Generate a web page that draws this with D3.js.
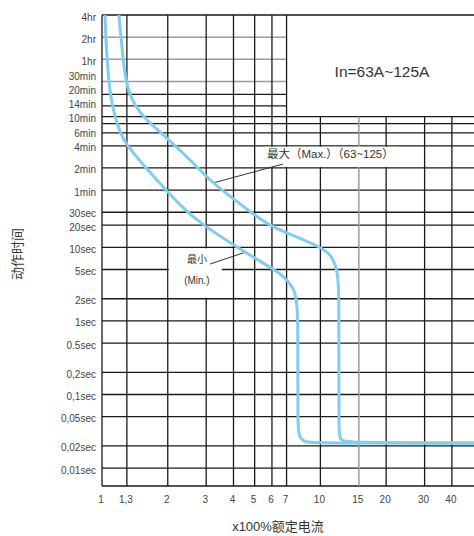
<!DOCTYPE html>
<html><head><meta charset="utf-8">
<script src="https://cdn.jsdelivr.net/npm/d3@7"></script>
<style>body{margin:0;background:#fff}svg{display:block}</style>
</head><body>
<svg id="c" width="474" height="536"></svg>
<script>
// ---- data ----
const timeValues = [14400,7200,3600,1800,1200,840,600,480,360,240,120,60,30,20,10,5,2,1,0.5,0.2,0.1,0.05,0.02,0.01];
const timeLabels = ["4hr","2hr","1hr","30min","20min","14min","10min","","6min","4min","2min","1min","30sec","20sec","10sec","5sec","2sec","1sec","0.5sec","0,2sec","0,1sec","0,05sec","0,02sec","0,01sec"];
const lightTimes = [7200,3600,1800];
const upperTimes = [7200,3600,1800,1200,840];       // lines that stop at 7x (box area)
const currentValues = [1,1.3,2,3,4,5,6,7,10,15,20,30,40];
const currentLabels = ["1","1,3","2","3","4","5","6","7","10","15","20","30","40"];
const lightCurrents = [15];
const lowerCurrents = [10,15,20,30,40];             // lines that start at 10min
const minCurve = [[1.032,14400],[1.04,8000],[1.054,3633],[1.088,1176],[1.147,591],[1.209,370],[1.274,262],[1.573,124],[1.963,60.2],[2.323,35.3],[2.809,21.4],[4.148,10.1],[5.176,6.73],[5.874,5.4],[6.88,3.95],[7.48,2.89],[7.885,1.92],[7.885,0.3],[7.885,0.0384],[7.95,0.026],[8.6,0.0222],[9.64,0.0219],[50.5,0.0219]];
const maxCurve = [[1.196,14400],[1.205,10000],[1.222,7465],[1.248,3633],[1.288,1825],[1.343,1176],[1.416,861],[1.540,591],[1.984,306],[2.348,192],[2.751,120],[3.221,74.9],[4.061,44],[4.859,29.3],[5.998,18.9],[7.805,13.8],[9.741,10.4],[11.05,8.38],[11.9,5.4],[12.1,3.0],[12.15,1.92],[12.15,0.2],[12.15,0.0329],[12.25,0.024],[13.1,0.0222],[50.5,0.0219]];
const boxTitle = "In=63A~125A";
const maxLabel = "最大（Max.）（63~125）";
const minLabel = ["最小","(Min.)"];
const xTitle = "x100%额定电流";
const yTitle = "动作时间";

// ---- scales ----
const xDomainMax = 50.5, yDomainMin = 0.0057;
const x = d3.scaleLog().domain([1, xDomainMax]).range([102, 474]);
const y = d3.scaleLog().domain([yDomainMin, 14400]).range([486, 15]);

const svg = d3.select("#c");
const BLACK = "#1a1a1a", GRAY = "#9c9c9c";
const latin = "'Liberation Sans', Arial, sans-serif";
const cjk = "'Liberation Sans', 'Noto Sans CJK SC', sans-serif";

const gGrid = svg.append("g");
const gBox = svg.append("g");
const gText = svg.append("g");
const gCurve = svg.append("g");

// ---- grid ----
timeValues.forEach(t => {
  gGrid.append("line")
    .attr("x1", x(1)).attr("x2", upperTimes.includes(t) ? x(7) : x(xDomainMax))
    .attr("y1", y(t)).attr("y2", y(t))
    .attr("stroke", lightTimes.includes(t) ? GRAY : BLACK)
    .attr("stroke-width", lightTimes.includes(t) ? 1.5 : 1.3);
});
gGrid.append("line").attr("x1", x(1)).attr("x2", x(xDomainMax))
  .attr("y1", y(yDomainMin)).attr("y2", y(yDomainMin)).attr("stroke", BLACK).attr("stroke-width", 1.3);
currentValues.forEach(c => {
  gGrid.append("line")
    .attr("x1", x(c)).attr("x2", x(c))
    .attr("y1", lowerCurrents.includes(c) ? y(600) : y(14400))
    .attr("y2", y(yDomainMin))
    .attr("stroke", lightCurrents.includes(c) ? GRAY : BLACK)
    .attr("stroke-width", lightCurrents.includes(c) ? 1.5 : 1.3);
});

// ---- y tick labels (stacked to avoid overlap) ----
const yItems = timeValues.map((t, i) => ({t, label: timeLabels[i], pos: y(t) + 2})).filter(d => d.label);
for (let i = yItems.length - 2; i >= 0; i--) yItems[i].pos = Math.min(yItems[i].pos, yItems[i + 1].pos - 14);
gText.append("g").selectAll("text").data(yItems).join("text")
  .attr("x", 96).attr("y", d => d.pos).attr("dy", "0.35em")
  .attr("text-anchor", "end").attr("font-family", latin).attr("font-size", 10).attr("fill", "#444")
  .text(d => d.label);

// ---- x tick labels ----
gText.append("g").selectAll("text").data(currentValues).join("text")
  .attr("x", d => x(d) - 1).attr("y", 503)
  .attr("text-anchor", "middle").attr("font-family", latin).attr("font-size", 10).attr("fill", "#444")
  .text((d, i) => currentLabels[i]);

// ---- axis titles ----
gText.append("text").attr("x", 278).attr("y", 531).attr("text-anchor", "middle")
  .attr("font-family", cjk).attr("font-size", 13).attr("fill", "#333").text(xTitle);
gText.append("text").attr("transform", "translate(22,254) rotate(-90)").attr("text-anchor", "middle")
  .attr("font-family", cjk).attr("font-size", 13).attr("fill", "#333").text(yTitle);

// ---- box title ----
gText.append("text").attr("x", 382).attr("y", 72).attr("dy", "0.35em").attr("text-anchor", "middle")
  .attr("font-family", latin).attr("font-size", 15.5).attr("fill", "#333").text(boxTitle);

// ---- Max annotation ----
const maxText = gText.append("text").attr("x", x(5.69)).attr("y", y(185.7)).attr("dy", "0.35em")
  .attr("font-family", cjk).attr("font-size", 11.5).attr("fill", "#333").text(maxLabel);
const mb = maxText.node().getBBox();
gBox.append("rect").attr("x", mb.x - 2).attr("width", mb.width + 4)
  .attr("y", y(240) + 1).attr("height", y(120) - y(240) - 2).attr("fill", "#fff");
gText.append("line").attr("x1", x(3.221)).attr("y1", y(74.9)).attr("x2", x(6.735)).attr("y2", y(135.7))
  .attr("stroke", "#333").attr("stroke-width", 1);

// ---- Min annotation ----
gBox.append("rect").attr("x", x(2) + 1).attr("width", x(3.54) - x(2) - 1)
  .attr("y", y(10) + 1).attr("height", y(2) - y(10) - 2).attr("fill", "#fff");
gText.append("text").attr("x", x(2.72)).attr("y", y(6.73)).attr("dy", "0.35em").attr("text-anchor", "middle")
  .attr("font-family", cjk).attr("font-size", 10).attr("fill", "#333").text(minLabel[0]);
gText.append("text").attr("x", x(2.72)).attr("y", y(3.49)).attr("dy", "0.35em").attr("text-anchor", "middle")
  .attr("font-family", cjk).attr("font-size", 10).attr("fill", "#333").text(minLabel[1]);
gText.append("line").attr("x1", x(3.121)).attr("y1", y(5.93)).attr("x2", x(4.56)).attr("y2", y(8.64))
  .attr("stroke", "#333").attr("stroke-width", 1);

// ---- curves ----
const line = d3.line().x(d => x(d[0])).y(d => y(d[1])).curve(d3.curveBasis);
[minCurve, maxCurve].forEach(c => {
  gCurve.append("path").attr("d", line(c)).attr("fill", "none")
    .attr("stroke", "#80cdee").attr("stroke-width", 3).attr("stroke-linejoin", "round");
});
</script>
</body></html>
